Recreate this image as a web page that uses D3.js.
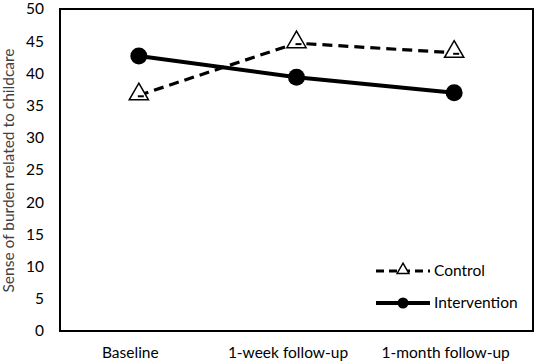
<!DOCTYPE html>
<html><head><meta charset="utf-8">
<script src="https://cdn.jsdelivr.net/npm/d3@7"></script>
<style>body{margin:0;background:#fff}svg{display:block}text{font-family:Lato,"Open Sans",sans-serif}</style>
</head><body><svg id="c" width="539" height="364"></svg>
<script>
const categories = ["Baseline", "1-week follow-up", "1-month follow-up"];
const controlValues = [36.6, 44.7, 43.2];
const interventionValues = [42.7, 39.4, 37.0];
const yTicks = [0, 5, 10, 15, 20, 25, 30, 35, 40, 45, 50];
const seriesNames = ["Control", "Intervention"];

const svg = d3.select("#c");
const L = 60, R = 533, T = 9, B = 331;
const x = d3.scalePoint().domain(categories).range([L, R]).padding(0.5);
const y = d3.scaleLinear().domain([0, 50]).range([B, T]);

const ya = svg.append("g").attr("transform", `translate(${L},0)`)
  .call(d3.axisLeft(y).tickValues(yTicks).tickSize(0).tickPadding(16));
ya.select(".domain").remove();
ya.selectAll("text").attr("font-size", 15.5).attr("fill", "#000").attr("font-family", "Lato, sans-serif");

const xa = svg.append("g").attr("transform", `translate(0,${B})`)
  .call(d3.axisBottom(x).tickSize(0).tickPadding(16));
xa.select(".domain").remove();
xa.selectAll("text").attr("font-size", 15.5).attr("fill", "#000").attr("dx", -9).attr("font-family", "Lato, sans-serif");

svg.append("rect").attr("x", L).attr("y", T).attr("width", R - L).attr("height", B - T)
  .attr("fill", "none").attr("stroke", "#000").attr("stroke-width", 2);

svg.append("text").attr("transform", `translate(14,${(33 + 308) / 2}) rotate(-90)`)
  .attr("text-anchor", "middle").attr("font-size", 15.5).attr("fill", "#404040")
  .attr("font-family", "'Liberation Sans', Arial, sans-serif")
  .text("Sense of burden related to childcare");

const line = d3.line().x((d, i) => x(categories[i])).y(d => y(d));
const tri = d3.symbol().type(d3.symbolTriangle).size(160);

svg.append("path").datum(controlValues).attr("d", line).attr("fill", "none")
  .attr("stroke", "#000").attr("stroke-width", 3.2).attr("stroke-dasharray", "10,6");
svg.selectAll(".tri").data(controlValues).join("path").attr("class", "tri")
  .attr("d", tri).attr("transform", (d, i) => `translate(${x(categories[i])},${y(d) - 1})`)
  .attr("fill", "#fff").attr("stroke", "#000").attr("stroke-width", 1.5);
svg.selectAll(".tri-dash").data(controlValues).join("line").attr("class", "tri-dash")
  .attr("x1", (d, i) => x(categories[i]) - 1).attr("x2", (d, i) => x(categories[i]) + 5)
  .attr("y1", d => y(d) + 1).attr("y2", d => y(d) + 1).attr("stroke", "#000").attr("stroke-width", 2);

svg.append("path").datum(interventionValues).attr("d", line).attr("fill", "none")
  .attr("stroke", "#000").attr("stroke-width", 4);
svg.selectAll(".dot").data(interventionValues).join("circle").attr("class", "dot")
  .attr("cx", (d, i) => x(categories[i])).attr("cy", d => y(d)).attr("r", 8.5).attr("fill", "#000");

const lg = svg.append("g");
const ly = [271, 303];
lg.append("line").attr("x1", 376).attr("x2", 430).attr("y1", ly[0]).attr("y2", ly[0])
  .attr("stroke", "#000").attr("stroke-width", 3).attr("stroke-dasharray", "8,5");
lg.append("path").attr("d", d3.symbol().type(d3.symbolTriangle).size(60))
  .attr("transform", `translate(403,${ly[0] - 1})`).attr("fill", "#fff").attr("stroke", "#000").attr("stroke-width", 1.5);
lg.append("line").attr("x1", 376).attr("x2", 430).attr("y1", ly[1]).attr("y2", ly[1])
  .attr("stroke", "#000").attr("stroke-width", 4);
lg.append("circle").attr("cx", 403).attr("cy", ly[1]).attr("r", 5.5).attr("fill", "#000");
lg.selectAll("text").data(seriesNames).join("text").attr("x", 434).attr("y", (d, i) => ly[i])
  .attr("dy", "0.35em").attr("font-size", 15.5).attr("fill", "#000").text(d => d);
</script></body></html>
